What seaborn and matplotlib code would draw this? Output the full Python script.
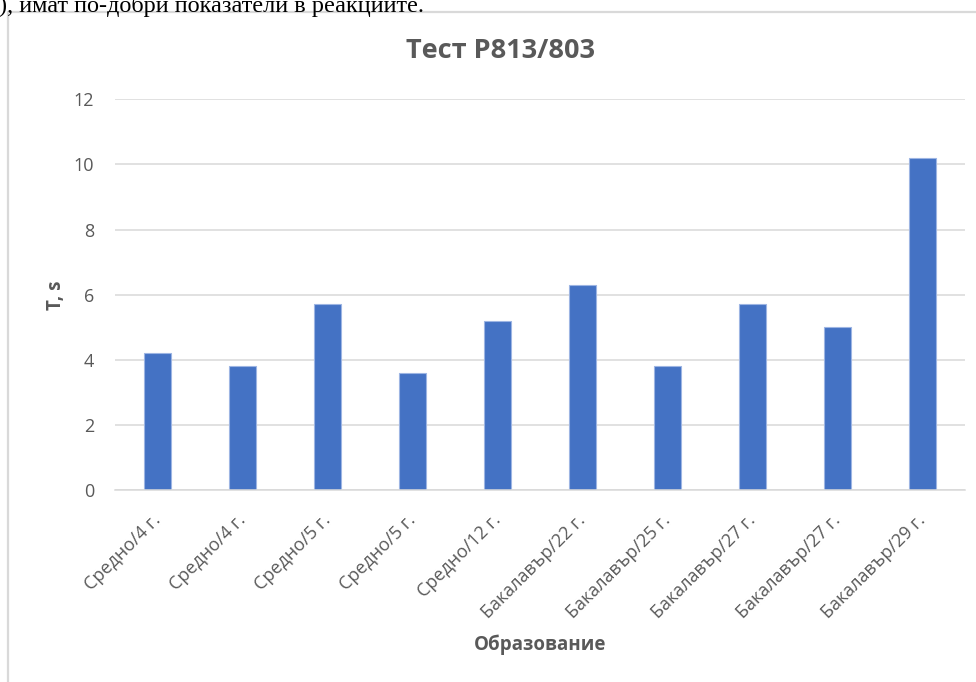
import matplotlib
matplotlib.use("Agg")
import matplotlib.pyplot as plt
from matplotlib.lines import Line2D
from matplotlib.transforms import ScaledTranslation
import numpy as np
import pandas as pd
import seaborn as sns

# Reaction time per participant, labelled by education / age
categories = [
    "Средно/4 г.", "Средно/4 г.", "Средно/5 г.", "Средно/5 г.", "Средно/12 г.",
    "Бакалавър/22 г.", "Бакалавър/25 г.", "Бакалавър/27 г.", "Бакалавър/27 г.",
    "Бакалавър/29 г.",
]
times = [4.2, 3.8, 5.7, 3.6, 5.2, 6.3, 3.8, 5.7, 5.0, 10.2]
y_ticks = [0, 2, 4, 6, 8, 10, 12]

title = "Тест Р813/803"
x_title = "Образование"
y_title = "T, s"
page_text = "), имат по-добри показатели в реакциите."

sns.set_theme(style="white")
plt.rcParams["font.family"] = ["Open Sans", "DejaVu Sans"]

TEXT = "#595959"
GRID = "#d9d9d9"
BAR = "#4472c4"

W, H = 976, 682
fig = plt.figure(figsize=(W / 100, H / 100), dpi=100)

def fx(px):
    return px / W

def fy(py):
    return 1 - py / H

# surrounding document line (page text above the chart) and chart frame
fig.text(fx(-1), fy(12), page_text, family=["Liberation Serif", "DejaVu Serif"],
         fontsize=17.5, color="black", ha="left", va="baseline")
fig.add_artist(Line2D([fx(8), fx(8)], [fy(12), fy(H + 5)], color=GRID, lw=1.6,
                      transform=fig.transFigure))
fig.add_artist(Line2D([fx(8), fx(W + 5)], [fy(12), fy(12)], color=GRID, lw=1.6,
                      transform=fig.transFigure))

left, right, top, bottom = 115, 965, 99.3, 490
ax = fig.add_axes([fx(left), fy(bottom), fx(right - left), (bottom - top) / H])

df = pd.DataFrame({"pos": np.arange(len(categories)), "time": times})
sns.barplot(data=df, x="pos", y="time", color=BAR, saturation=1, width=0.31,
            edgecolor="#9db5e3", linewidth=0.8, ax=ax, zorder=3)

ax.set_ylim(0, 12)
ax.set_xlim(-0.5, len(categories) - 0.5)
ax.set_yticks(y_ticks)
ax.set_yticklabels([str(t) for t in y_ticks])
ax.set_xticks(np.arange(len(categories)))
ax.set_xticklabels(categories, rotation=45, ha="right", rotation_mode="anchor")

ax.grid(axis="y", color=GRID, lw=1.1, zorder=0)
ax.grid(axis="x", visible=False)
for s in ["top", "right", "left"]:
    ax.spines[s].set_visible(False)
ax.spines["bottom"].set_color(GRID)
ax.spines["bottom"].set_linewidth(1.1)
ax.spines["bottom"].set_zorder(4)

ax.tick_params(axis="y", length=0, pad=15, labelsize=13, labelcolor=TEXT)
ax.tick_params(axis="x", length=0, pad=15, labelsize=13, labelcolor=TEXT)
# nudge the slanted category labels a little to the left
shift = ScaledTranslation(-0.06, 0, fig.dpi_scale_trans)
for lab in ax.get_xticklabels():
    lab.set_transform(lab.get_transform() + shift)

ax.set_xlabel("")
ax.set_ylabel("")
fig.text(fx(540), fy(645), x_title, fontsize=13.5, fontweight="bold", color=TEXT,
         ha="center", va="center")
fig.text(fx(56), fy(295), y_title, fontsize=13.5, fontweight="bold", color=TEXT,
         ha="center", va="center", rotation=90)
fig.text(fx(501), fy(51), title, fontsize=19.5, fontweight="bold", color=TEXT,
         ha="center", va="center")

fig.savefig("out.png", dpi=100, facecolor="white")
